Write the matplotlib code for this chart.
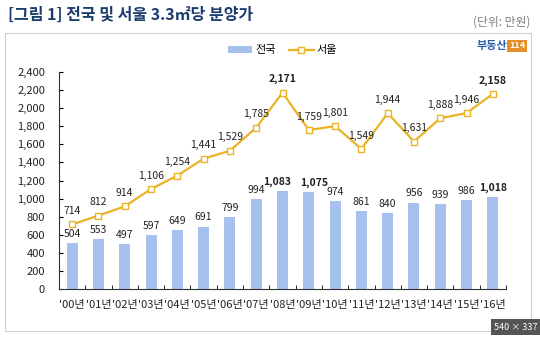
import matplotlib
matplotlib.use('Agg')
from matplotlib import pyplot as plt
from matplotlib.patches import Rectangle

plt.rcParams['font.family'] = ['Noto Sans CJK KR', 'DejaVu Sans']

years = ["'00년", "'01년", "'02년", "'03년", "'04년", "'05년", "'06년", "'07년", "'08년",
         "'09년", "'10년", "'11년", "'12년", "'13년", "'14년", "'15년", "'16년"]
national = [504, 553, 497, 597, 649, 691, 799, 994, 1083, 1075, 974, 861, 840, 956, 939, 986, 1018]
seoul = [714, 812, 914, 1106, 1254, 1441, 1529, 1785, 2171, 1759, 1801, 1549, 1944, 1631, 1888, 1946, 2158]
bold_nat = [1083, 1075, 1018]
bold_seoul = [2171, 2158]

bar_color = '#a7c1ee'
line_color = '#eab324'

fig = plt.figure(figsize=(5.4, 3.37), dpi=100)

# рамка вокруг графика
fig.patches.append(Rectangle((5 / 540, 1 - 331 / 337), 526 / 540, 298 / 337,
                             transform=fig.transFigure, fill=False,
                             edgecolor='#d0d0d0', linewidth=0.8))

fig.text(8 / 540, 1 - 15 / 337, '[그림 1] 전국 및 서울 3.3㎡당 분양가', fontsize=11.5,
         fontweight='bold', color='#1c3c6e', va='center')
fig.text(530 / 540, 1 - 22 / 337, '(단위: 만원)', fontsize=8.5, color='#808080',
         ha='right', va='center')

# логотип
fig.text(507 / 540, 1 - 46 / 337, '부동산', fontsize=8, fontweight='bold',
         color='#2b5fae', ha='right', va='center')
fig.text(517 / 540, 1 - 46 / 337, '114', fontsize=6.5, fontweight='bold', color='white',
         ha='center', va='center',
         bbox=dict(boxstyle='square,pad=0.2', facecolor='#e5902c', edgecolor='none'))

ax = fig.add_axes([59 / 540, 1 - 289 / 337, 447 / 540, 217 / 337])
xs = list(range(len(years)))

bars = ax.bar(xs, national, width=0.42, color=bar_color, label='전국', zorder=2)
line, = ax.plot(xs, seoul, color=line_color, linewidth=1.6, marker='s', markersize=5,
                markerfacecolor='white', markeredgecolor=line_color, markeredgewidth=1,
                label='서울', zorder=3)

# небольшие сдвиги подписей, чтобы не слипались
nat_dx = {8: -4, 9: 4}
for x, v in zip(xs, national):
    ax.annotate(f'{v:,}', xy=(x, v), xytext=(nat_dx.get(x, 0), 3), textcoords='offset points',
                ha='center', va='bottom', fontsize=7.5, color='#222222',
                fontweight='bold' if v in bold_nat else 'normal')
for x, v in zip(xs, seoul):
    ax.annotate(f'{v:,}', xy=(x, v), xytext=(0, 6), textcoords='offset points',
                ha='center', va='bottom', fontsize=7.5, color='#222222',
                fontweight='bold' if v in bold_seoul else 'normal')

ax.set_xlim(-0.5, len(years) - 0.5)
ax.set_ylim(0, 2400)
ax.set_yticks(range(0, 2401, 200))
ax.set_yticklabels([f'{v:,}' for v in range(0, 2401, 200)], fontsize=8, color='#222222')
ax.set_xticks(xs)
ax.set_xticklabels(years, fontsize=8, color='#222222')
ax.set_xticks([x - 0.5 for x in range(len(years) + 1)], minor=True)
ax.tick_params(axis='x', which='major', length=0, pad=8)
ax.tick_params(axis='x', which='minor', length=3, direction='in')
ax.tick_params(axis='y', length=3, direction='in', pad=10)

for s in ['top', 'right']:
    ax.spines[s].set_visible(False)
ax.spines['left'].set_color('#333333')
ax.spines['bottom'].set_color('#333333')

ax.legend([bars, line], ['전국', '서울'], loc='lower center', bbox_to_anchor=(0.5, 1.03),
          ncol=2, frameon=False, fontsize=8, handlelength=2.2, columnspacing=1.2,
          handletextpad=0.3)

# плашка размера скриншота
fig.text(538 / 540, 1 - 327 / 337, '540 × 337', fontsize=6.5, color='white',
         ha='right', va='center',
         bbox=dict(boxstyle='square,pad=0.4', facecolor='#555555', edgecolor='none'))

plt.savefig('out.png', dpi=100)
